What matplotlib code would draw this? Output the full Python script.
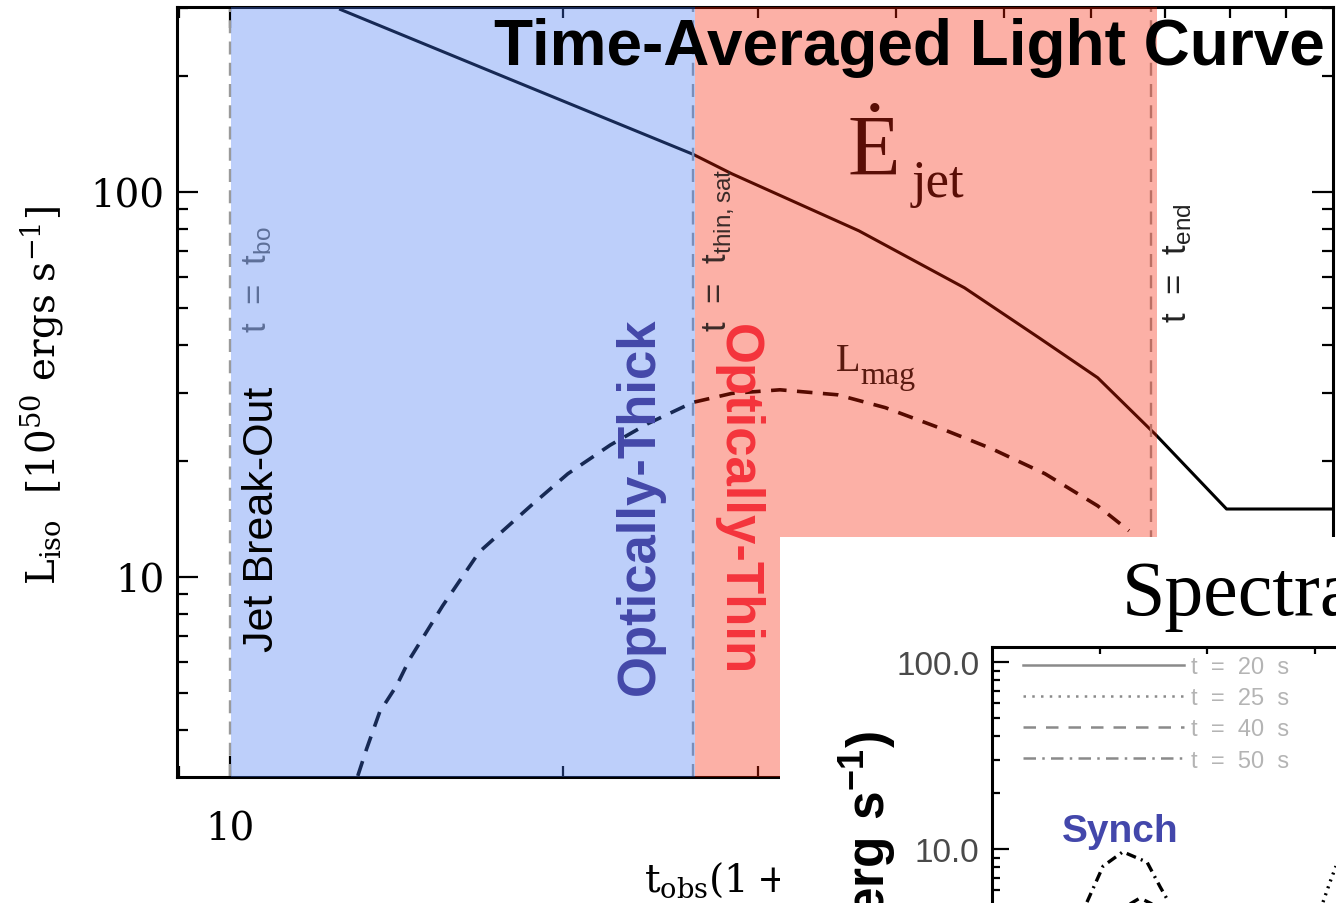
import matplotlib
matplotlib.use('Agg')
import matplotlib.pyplot as plt
from matplotlib.lines import Line2D
from matplotlib.patches import Rectangle
from matplotlib.ticker import NullFormatter, FuncFormatter, FixedLocator, NullLocator
from matplotlib import font_manager

# --- time-averaged light curve ---
lc_t = [12.59, 18.10, 26.2, 28.41, 37.0, 46.1, 53.8, 60.8, 68.6, 79.5, 99.2]
lc_L = [297.5, 193.6, 125.2, 111.4, 79.2, 56.3, 41.8, 32.9, 23.4, 15.0, 15.0]

lmag_t = [13.05, 13.29, 13.66, 14.15, 14.54, 15.57, 16.8, 18.70, 20.2, 22.07, 23.84,
          26.2, 28.41, 31.4, 35.4, 39.1, 43.7, 48.8, 54.5, 60.8, 64.9]
lmag_L = [3.04, 3.57, 4.46, 5.22, 6.12, 8.41, 11.6, 15.29, 18.52, 22.0, 24.97,
          28.38, 29.95, 30.6, 29.7, 27.5, 24.4, 21.5, 18.52, 15.29, 13.17]

t_bo = 10.0
t_thin = 26.2
t_end = 67.9
thick_span = (10.02, 26.3)
thin_span = (26.3, 68.8)

# --- spectra inset (only the corner that is visible) ---
synch_E = [7.65, 10.8, 16.5, 27.7, 36.5, 42.5]
synch_L = [5.2, 8.1, 9.66, 8.5, 6.3, 5.4]
s40_E = [19.2, 23.8, 30.8]
s40_L = [5.08, 5.47, 5.08]
s25_E = [1200, 1393, 1585]
s25_L = [5.2, 6.65, 8.1]
legend_labels = ['t  =  20  s', 't  =  25  s', 't  =  40  s', 't  =  50  s']

W, H = 1336, 904
fig = plt.figure(figsize=(W / 100, H / 100), dpi=100)


def fx(px):
    return px / W


def fy(py):
    return 1 - py / H


names = {f.name for f in font_manager.fontManager.ttflist}
narrow = 'Liberation Sans Narrow' if 'Liberation Sans Narrow' in names else 'Liberation Sans'

serif = 'DejaVu Serif'
tserif = 'Liberation Serif'
sans = 'Liberation Sans'

# main light-curve axes
ax = fig.add_axes([fx(177), fy(778), (1333 - 177) / W, (778 - 8) / H])
ax.set_xscale('log')
ax.set_yscale('log')
ax.set_xlim(8.96, 99.2)
ax.set_ylim(3.02, 302)

ax.plot(lc_t, lc_L, color='black', lw=2.2, zorder=2)
ax.plot(lmag_t, lmag_L, color='black', lw=2.6, dashes=(4.3, 2.9), zorder=2)
for t in (t_bo, t_thin, t_end):
    ax.axvline(t, color='#9a9a9a', lw=1.7, dashes=(5.5, 3.5), zorder=2)

# shading sits on top of the curves (tints them like the original)
ax.axvspan(*thick_span, color=(66 / 255, 120 / 255, 243 / 255), alpha=0.35, lw=0, zorder=3)
ax.axvspan(*thin_span, color=(249 / 255, 31 / 255, 0), alpha=0.35, lw=0, zorder=3)

for s in ax.spines.values():
    s.set_linewidth(2.2)
ax.tick_params(which='both', direction='in', top=True, right=True, width=1.6)
ax.tick_params(which='major', length=15, labelsize=28, labelfontfamily=serif)
ax.tick_params(which='minor', length=8)
ax.tick_params(axis='x', which='major', pad=24)
ax.tick_params(axis='y', which='major', pad=9)
fmt = FuncFormatter(lambda v, p: '%d' % round(v))
ax.xaxis.set_major_formatter(fmt)
ax.yaxis.set_major_formatter(fmt)
ax.xaxis.set_minor_formatter(NullFormatter())
ax.yaxis.set_minor_formatter(NullFormatter())

fig.text(fx(42), fy(396), r'$\mathregular{L_{iso}\ \ [10^{50}\ ergs\ s^{-1}]}$',
         rotation=90, ha='center', va='center', fontsize=28, family=serif)
fig.text(fx(644), fy(878), r'$\mathregular{t_{obs}(1+z)^{-1}\ [s]}$',
         ha='left', va='center', fontsize=28, family=serif)

# annotations of the light-curve panel
fig.text(fx(1325), fy(65), 'Time-Averaged Light Curve', ha='right', va='baseline',
         fontsize=46, weight='bold', family=sans)
fig.text(fx(262), fy(519), 'Jet Break-Out', rotation=90, ha='center', va='center',
         fontsize=31, family=narrow)
fig.text(fx(640), fy(506), 'Optically-Thick', rotation=90, ha='center', va='center',
         fontsize=38, weight='bold', family=sans, color='#4448a9')
fig.text(fx(738), fy(500), 'Optically-Thin', rotation=-90, ha='center', va='center',
         fontsize=38, weight='bold', family=sans, color='#f4343c')

fig.text(fx(848), fy(175), '\u0116', ha='left', va='baseline', fontsize=62,
         family=tserif, color='#5a0e06')
fig.text(fx(912), fy(197), 'jet', ha='left', va='baseline', fontsize=38,
         family=tserif, color='#5a0e06')
fig.text(fx(836), fy(371), 'L', ha='left', va='baseline', fontsize=29,
         family=tserif, color='#5a1a10')
fig.text(fx(860), fy(384), 'mag', ha='left', va='baseline', fontsize=23,
         family=tserif, color='#5a1a10')

fig.text(fx(257), fy(280), r't  =  t$\mathregular{_{bo}}$', rotation=90, ha='center',
         va='center', fontsize=25, family=sans, color='#5d6f98')
fig.text(fx(719), fy(250), r't  =  t$\mathregular{_{thin,sat}}$', rotation=90, ha='center',
         va='center', fontsize=25, family=sans, color='#3a2a28')
fig.text(fx(1177), fy(263), r't  =  t$\mathregular{_{end}}$', rotation=90, ha='center',
         va='center', fontsize=25, family=sans, color='#222222')

# white box of the spectra panel pasted over the corner
fig.add_artist(Rectangle((fx(780), 0), 1 - fx(780), fy(538), transform=fig.transFigure,
                         facecolor='white', edgecolor='none', zorder=4))
fig.text(fx(1122), fy(615), 'Spectra', ha='left', va='baseline', fontsize=56,
         family=tserif, zorder=6)

axi = fig.add_axes([fx(992), fy(1037), (1422 - 992) / W, (1037 - 648) / H], zorder=5)
axi.set_xscale('log')
axi.set_yscale('log')
axi.set_xlim(1, 1e4)
axi.set_ylim(1, 120.3)

axi.plot(synch_E, synch_L, color='black', lw=2.4, dashes=(3.0, 1.6, 0.6, 1.6))
axi.plot(s40_E, s40_L, color='black', lw=2.4, dashes=(3.0, 2.0))
axi.plot(s25_E, s25_L, color='black', lw=2.4, dashes=(0.6, 1.6))

for s in axi.spines.values():
    s.set_linewidth(2.2)
axi.xaxis.set_major_locator(FixedLocator([10, 100, 1000]))
axi.xaxis.set_minor_locator(NullLocator())
axi.tick_params(axis='x', which='major', direction='in', top=True, bottom=False,
                labelbottom=False, length=5, width=1.6)
axi.yaxis.set_major_formatter(FuncFormatter(lambda v, p: '%.1f' % v))
axi.yaxis.set_minor_formatter(NullFormatter())
axi.tick_params(axis='y', which='both', direction='in', width=1.6, labelsize=24,
                labelcolor='#4a4a4a', pad=9, labelfontfamily=sans)
axi.tick_params(axis='y', which='major', length=12)
axi.tick_params(axis='y', which='minor', length=6)

handles = [Line2D([], [], color='#8a8a8a', lw=1.8),
           Line2D([], [], color='#8a8a8a', lw=1.8, dashes=(1, 2.5)),
           Line2D([], [], color='#8a8a8a', lw=1.8, dashes=(5, 4)),
           Line2D([], [], color='#8a8a8a', lw=1.8, dashes=(5, 2.5, 1, 2.5))]
leg = axi.legend(handles, legend_labels, loc='upper left', frameon=False,
                 bbox_to_anchor=(fx(1023), fy(657)), bbox_transform=fig.transFigure,
                 handlelength=6.8, handletextpad=0.3, labelspacing=0.39,
                 prop={'family': sans, 'size': 17}, borderaxespad=0, borderpad=0)
for txt in leg.get_texts():
    txt.set_color('#b4b4b4')

fig.text(fx(1120), fy(832), 'Synch', ha='center', va='center', fontsize=28,
         weight='bold', family=sans, color='#4347ab', zorder=6)
fig.text(fx(868), fy(731), r'$\mathregular{(erg\ s^{-1})}$', rotation=90,
         ha='center', va='top', fontsize=37, weight='bold', family=sans, zorder=6)

fig.savefig('out.png', dpi=100)
